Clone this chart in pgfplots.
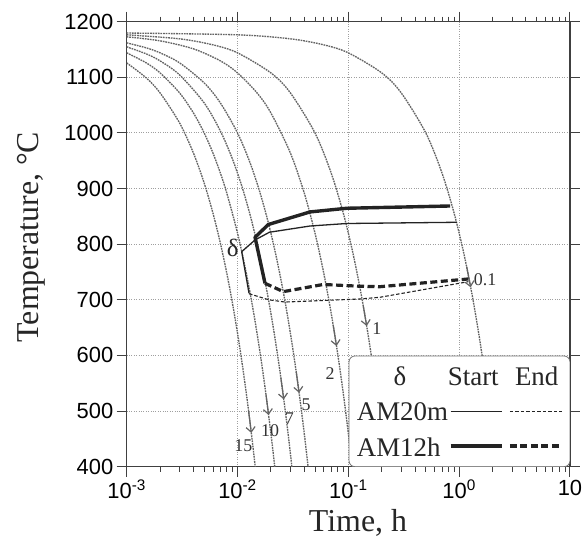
\documentclass[border=0pt]{standalone}
\usepackage{pgfplots}
\pgfplotsset{compat=1.18}
\usepackage{fontspec}
\setmainfont{Liberation Serif}
\newfontfamily\ticksans{Liberation Sans}
\usetikzlibrary{arrows.meta}
\definecolor{curvegray}{RGB}{100,100,100}
\definecolor{linedark}{RGB}{35,35,35}
\begin{document}
\begin{tikzpicture}
\begin{axis}[
  name=ax,
  scale only axis,
  width=443.3bp, height=445bp,
  xmode=log,
  xmin=1e-3, xmax=10,
  ymin=400, ymax=1200,
  xtick={1e-3,1e-2,1e-1,1,10},
  xticklabels={10\textsuperscript{-3},10\textsuperscript{-2},10\textsuperscript{-1},10\textsuperscript{0},10},
  minor xtick={0.002,0.003,0.004,0.005,0.006,0.007,0.008,0.009,0.02,0.03,0.04,0.05,0.06,0.07,0.08,0.09,0.2,0.3,0.4,0.5,0.6,0.7,0.8,0.9,2,3,4,5,6,7,8,9},
  ytick={400,500,600,700,800,900,1000,1100,1200},
  tick align=outside,
  major tick length=10bp, minor tick length=5bp,
  grid=major,
  major grid style={dotted, gray!75, line width=0.9bp},
  axis line style={black!75, line width=1.1bp},
  every tick/.style={black!75, line width=1.0bp},
  every minor tick/.style={black!75, line width=0.8bp},
  tick label style={font=\ticksans\fontsize{22}{22}\selectfont, black},
  /pgf/number format/assume math mode=true,
  /pgf/number format/set thousands separator={},
  xlabel={Time, h},
  ylabel={Temperature, \textdegree C},
  label style={font=\fontsize{32}{32}\selectfont, black!85},
  xlabel style={at={(axis description cs:0.5218,-0.1467)}, anchor=base},
  ylabel style={at={(axis description cs:-0.216,0.516)}, anchor=center},
  clip=true,
]
% cooling curves (0.1, 1, 2, 5, 7, 10, 15 C/s)
\pgfplotsset{cc/.style={curvegray, line width=1.35bp, dash pattern=on 1.7bp off 0.9bp, smooth, forget plot}}
\addplot[cc] coordinates {(0.001,1126) (0.0015,1099) (0.002,1072) (0.003,1018) (0.004,964) (0.005,910) (0.006,856) (0.007,802) (0.008,748) (0.009,694) (0.010,640) (0.011,586) (0.012,532) (0.013,478) (0.014,424) (0.0145,397)};
\addplot[cc] coordinates {(0.001,1144) (0.0015,1126) (0.002,1108) (0.003,1072) (0.004,1036) (0.005,1000) (0.006,964) (0.007,928) (0.008,892) (0.010,820) (0.012,748) (0.014,676) (0.016,604) (0.018,532) (0.020,460) (0.021,424) (0.0217,398.8)};
\addplot[cc] coordinates {(0.001,1154.8) (0.0015,1142.2) (0.002,1129.6) (0.003,1104.4) (0.005,1054) (0.007,1003.6) (0.009,953.2) (0.011,902.8) (0.013,852.4) (0.015,802) (0.017,751.6) (0.019,701.2) (0.021,650.8) (0.023,600.4) (0.025,550) (0.027,499.6) (0.029,449.2) (0.031,398.8)};
\addplot[cc] coordinates {(0.001,1162) (0.0015,1153) (0.002,1144) (0.003,1126) (0.005,1090) (0.007,1054) (0.010,1000) (0.013,946) (0.016,892) (0.019,838) (0.022,784) (0.025,730) (0.028,676) (0.031,622) (0.034,568) (0.037,514) (0.040,460) (0.0434,398.8)};
\addplot[cc] coordinates {(0.001,1172.8) (0.002,1165.6) (0.004,1151.2) (0.007,1129.6) (0.01,1108) (0.015,1072) (0.02,1036) (0.03,964) (0.04,892) (0.05,820) (0.06,748) (0.07,676) (0.08,604) (0.09,532) (0.1,460) (0.1085,398.8)};
\addplot[cc] coordinates {(0.001,1176.4) (0.003,1169.2) (0.006,1158.4) (0.01,1144) (0.02,1108) (0.03,1072) (0.05,1000) (0.07,928) (0.09,856) (0.11,784) (0.13,712) (0.15,640) (0.17,568) (0.19,496) (0.21,424) (0.217,398.8)};
\addplot[cc] coordinates {(0.001,1179.64) (0.01,1176.4) (0.03,1169.2) (0.06,1158.4) (0.1,1144) (0.2,1108) (0.3,1072) (0.5,1000) (0.7,928) (0.9,856) (1.1,784) (1.3,712) (1.5,640) (1.7,568) (1.9,496) (2.1,424) (2.17,398.8)};
% arrows on curves
\pgfplotsset{ca/.style={curvegray, line width=1.2bp, -{Straight Barb[length=5bp,width=9bp]}, forget plot}}
\addplot[ca] coordinates {(0.01259,500) (0.01332,460.7)};
\addplot[ca] coordinates {(0.01806,530) (0.01908,493)};
\addplot[ca] coordinates {(0.0246,560) (0.02615,521)};
\addplot[ca] coordinates {(0.03389,570) (0.03594,533)};
\addplot[ca] coordinates {(0.07292,655) (0.0782,617)};
\addplot[ca] coordinates {(0.1361,690) (0.1464,653)};
\addplot[ca] coordinates {(1.167,760) (1.2706,722.6)};
% curve labels
\begin{scope}[every node/.style={font=\fontsize{18}{18}\selectfont, text=black!80, inner sep=0pt}]
\node at (axis cs:0.01127,437.6) {15};
\node at (axis cs:0.01965,464.8) {10};
\node at (axis cs:0.02935,487) {7};
\node at (axis cs:0.04151,511) {5};
\node at (axis cs:0.0684,568) {2};
\node at (axis cs:0.1804,649) {1};
\node at (axis cs:1.713,737) {0.1};
\end{scope}
% delta transformation lines
\addplot[linedark, line width=1.3bp, line join=round, forget plot] coordinates {(0.0127,711.8) (0.01091,786.6) (0.01439,807.6) (0.0194,821.5) (0.0451,832.7) (0.0967,837.2) (0.951,839.4)};
\addplot[linedark, line width=3.4bp, line join=round, forget plot] coordinates {(0.0177,729.7) (0.01439,812.4) (0.01897,835.4) (0.0451,858) (0.0967,864.6) (0.828,868.7)};
\addplot[linedark, line width=1.1bp, dash pattern=on 3.5bp off 2bp, line join=round, forget plot] coordinates {(0.0127,711) (0.0192,700) (0.02684,696) (0.1275,701.5) (0.193,704.6) (1.21,732.6)};
\addplot[linedark, line width=3.2bp, dash pattern=on 7bp off 3.5bp, line join=round, forget plot] coordinates {(0.0177,729.7) (0.02591,714.7) (0.0594,727.6) (0.1275,724.4) (0.193,723.6) (1.21,737.5)};
\node[font=\fontsize{25}{25}\selectfont, text=black!85] at (axis cs:0.00905,792.7) {δ};
% legend box
\draw[black!55, line width=0.8bp, rounded corners=6bp, fill=white] (rel axis cs:0.5015,0) rectangle (rel axis cs:1,0.2488);
\begin{scope}[every node/.style={font=\fontsize{27}{27}\selectfont, text=black!85, inner sep=0pt}]
\node at (rel axis cs:0.6165,0.2022) {δ};
\node at (rel axis cs:0.7819,0.2022) {Start};
\node at (rel axis cs:0.9249,0.2022) {End};
\node[anchor=west] at (rel axis cs:0.5188,0.1236) {AM20m};
\node[anchor=west] at (rel axis cs:0.5188,0.0449) {AM12h};
\end{scope}
\draw[linedark, line width=1.3bp] (rel axis cs:0.7309,0.1236) -- (rel axis cs:0.8459,0.1236);
\draw[linedark, line width=1.1bp, dash pattern=on 3.5bp off 2bp] (rel axis cs:0.8646,0.1236) -- (rel axis cs:0.9813,0.1236);
\draw[linedark, line width=3.4bp] (rel axis cs:0.7309,0.0464) -- (rel axis cs:0.8459,0.0464);
\draw[linedark, line width=3.2bp, dash pattern=on 7bp off 3.5bp] (rel axis cs:0.8646,0.0464) -- (rel axis cs:0.9813,0.0464);
\end{axis}
\pgfresetboundingbox
\path ([xshift=-126.7bp,yshift=-71.3bp]ax.south west) rectangle ([xshift=13bp,yshift=21.7bp]ax.north east);
\end{tikzpicture}
\end{document}
